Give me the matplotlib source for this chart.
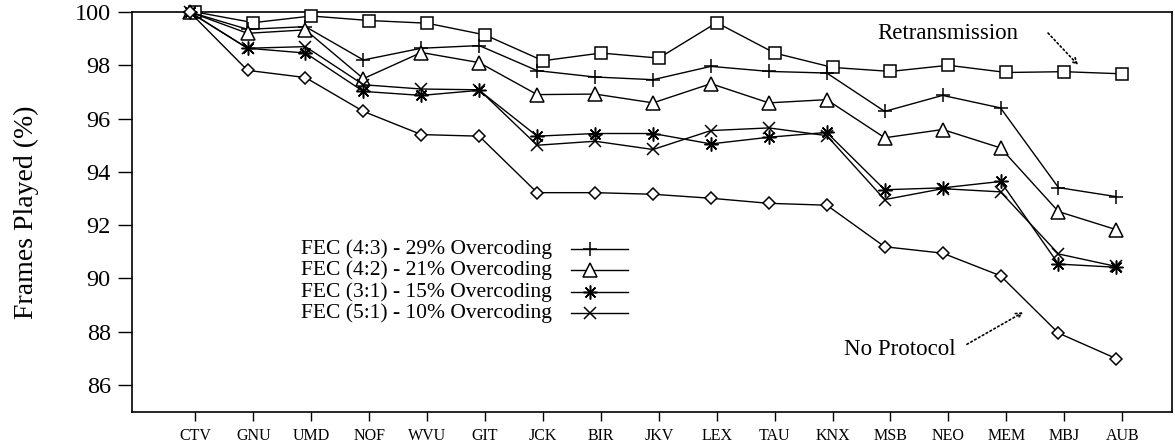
import matplotlib
matplotlib.use("Agg")
import matplotlib.pyplot as plt
from matplotlib.lines import Line2D
import numpy as np

# ---------------- data ----------------
sites = ['CTV', 'GNU', 'UMD', 'NOF', 'WVU', 'GIT', 'JCK', 'BIR', 'JKV',
         'LEX', 'TAU', 'KNX', 'MSB', 'NEO', 'MEM', 'MBJ', 'AUB']
retrans = [100, 99.60, 99.85, 99.68, 99.58, 99.14, 98.17, 98.46, 98.27,
           99.60, 98.46, 97.92, 97.77, 98.00, 97.73, 97.76, 97.68]
fec43 = [100, 99.35, 99.45, 98.20, 98.64, 98.74, 97.80, 97.56, 97.46,
         97.96, 97.77, 97.71, 96.27, 96.87, 96.40, 93.41, 93.07]
fec42 = [100, 99.20, 99.33, 97.50, 98.48, 98.10, 96.90, 96.92, 96.59,
         97.31, 96.59, 96.71, 95.28, 95.59, 94.90, 92.51, 91.83]
fec31 = [100, 98.64, 98.46, 97.02, 96.87, 97.06, 95.34, 95.44, 95.44,
         95.05, 95.30, 95.48, 93.33, 93.40, 93.64, 90.54, 90.42]
fec51 = [100, 98.64, 98.70, 97.27, 97.11, 97.08, 95.00, 95.15, 94.84,
         95.55, 95.65, 95.36, 92.96, 93.37, 93.25, 90.92, 90.45]
noprot = [100, 97.81, 97.54, 96.27, 95.40, 95.34, 93.22, 93.22, 93.16,
          93.01, 92.82, 92.75, 91.19, 90.95, 90.10, 87.95, 86.99]

legend_labels = ['FEC (4:3) - 29% Overcoding', 'FEC (4:2) - 21% Overcoding',
                 'FEC (3:1) - 15% Overcoding', 'FEC (5:1) - 10% Overcoding']
yticks = [86, 88, 90, 92, 94, 96, 98, 100]

# ---------------- style ----------------
FONT = 'Liberation Serif'
plt.rcParams['font.family'] = [FONT, 'DejaVu Serif']

fig = plt.figure(figsize=(11.75, 4.45), dpi=100)
ax = fig.add_axes([131.7 / 1175, 1 - 411.7 / 445, 1040.3 / 1175, 399.7 / 445])

x = np.arange(1, len(sites) + 1)
shift = -0.1  # FEC / no-protocol points sit slightly left of the tick
lw = 1.0
common = dict(color='black', lw=lw, mfc='white', mec='black', mew=1.1, clip_on=False, zorder=3)

ax.plot(x, retrans, marker='s', ms=8.5, **common)
ax.plot(x + shift, fec43, marker='+', ms=10, **common)
ax.plot(x + shift, fec42, marker='^', ms=9.5, **common)
ax.plot(x + shift, fec31, marker=(8, 2, 0), ms=10, **common)
ax.plot(x + shift, fec51, marker='x', ms=9, **common)
ax.plot(x + shift, noprot, marker='D', ms=6, **common)

ax.set_xlim(-0.1, 17.86)
ax.set_ylim(85, 100)
ax.set_yticks(yticks)
ax.set_yticklabels([str(v) for v in yticks], fontsize=17.5)
ax.set_xticks(x)
ax.set_xticklabels(sites, fontsize=11.5)
ax.tick_params(axis='y', direction='out', length=10, width=1, pad=5, right=False)
ax.tick_params(axis='x', direction='out', length=6.5, width=1, pad=5.5, top=False)
for s in ax.spines.values():
    s.set_linewidth(1.2)

ax.set_ylabel('Frames Played (%)', fontsize=20, labelpad=26)

# legend (drawn manually, gnuplot style)
leg_markers = [dict(marker='+', ms=10), dict(marker='^', ms=9.5),
               dict(marker=(8, 2, 0), ms=10), dict(marker='x', ms=9)]
rows = [0.407, 0.3533, 0.2995, 0.2470]
for lab, mk, yy in zip(legend_labels, leg_markers, rows):
    ax.text(0.404, yy, lab, transform=ax.transAxes, ha='right', va='center', fontsize=15.5)
    ax.add_line(Line2D([0.4223, 0.4771], [yy, yy], transform=ax.transAxes,
                       color='black', lw=lw))
    ax.add_line(Line2D([0.4406], [yy], transform=ax.transAxes, color='black',
                       mfc='white', mec='black', mew=1.1, lw=0, **mk))

# annotations
ax.text(12.78, 99.21, 'Retransmission', ha='left', va='center', fontsize=16.5)
ax.annotate('', xy=(16.24, 98.01), xytext=(15.72, 99.21),
            arrowprops=dict(arrowstyle='->', linestyle=':', lw=1.2, color='black',
                            shrinkA=0, shrinkB=0))
ax.text(14.12, 87.34, 'No Protocol', ha='right', va='center', fontsize=16.5)
ax.annotate('', xy=(15.29, 88.73), xytext=(14.32, 87.53),
            arrowprops=dict(arrowstyle='->', linestyle=':', lw=1.2, color='black',
                            shrinkA=0, shrinkB=0))

fig.savefig('out.png', dpi=100)
